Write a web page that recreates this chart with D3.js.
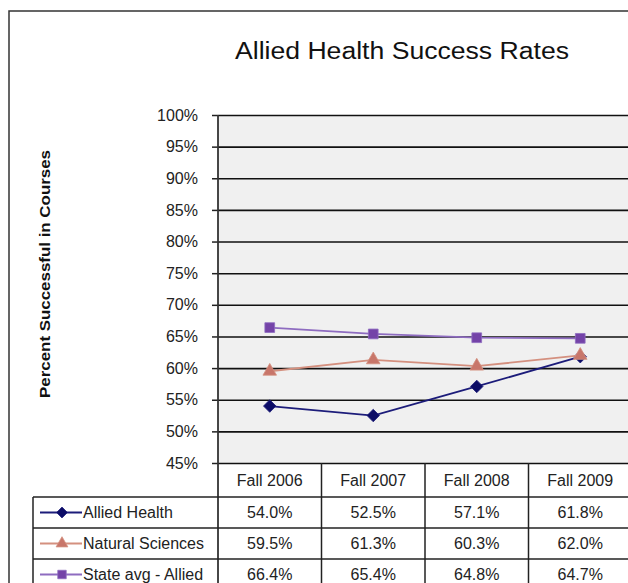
<!DOCTYPE html>
<html>
<head>
<meta charset="utf-8">
<script src="https://cdn.jsdelivr.net/npm/d3@7"></script>
<style>
  html, body { margin: 0; padding: 0; background: #fff; }
  svg { display: block; font-family: "Liberation Sans", Arial, sans-serif; }
</style>
</head>
<body>
<svg id="chart"></svg>
<script>
const years = ["Fall 2006", "Fall 2007", "Fall 2008", "Fall 2009"];
const seriesNames = ["Allied Health", "Natural Sciences", "State avg - Allied"];
const alliedHealth = [54.0, 52.5, 57.1, 61.8];
const naturalSciences = [59.5, 61.3, 60.3, 62.0];
const stateAvg = [66.4, 65.4, 64.8, 64.7];
const yTicks = [45, 50, 55, 60, 65, 70, 75, 80, 85, 90, 95, 100];

const series = [
  {name: seriesNames[0], values: alliedHealth, line: "#1c1c7a", fill: "#0c0c66", shape: d3.symbolDiamond2, size: 100},
  {name: seriesNames[1], values: naturalSciences, line: "#d4907f", fill: "#c8766a", shape: d3.symbolTriangle, size: 80},
  {name: seriesNames[2], values: stateAvg, line: "#8e6cc0", fill: "#7443a8", shape: d3.symbolSquare, size: 95}
];

const width = 628, height = 583;
const margin = {top: 115, left: 218, right: -4, bottom: 120};
const rowH = 31;

const svg = d3.select("#chart")
  .attr("width", width)
  .attr("height", height);

// outer frame of the chart area
svg.append("rect")
  .attr("x", 9).attr("y", 11)
  .attr("width", width + 20).attr("height", height + 20)
  .attr("fill", "#fff")
  .attr("stroke", "#333")
  .attr("stroke-width", 1.5);

const x = d3.scaleBand()
  .domain(years)
  .range([margin.left, width - margin.right]);

const y = d3.scaleLinear()
  .domain([45, 100])
  .range([height - margin.bottom, margin.top]);

const plotBottom = y(45);

// plot background
svg.append("rect")
  .attr("x", margin.left)
  .attr("y", margin.top)
  .attr("width", x.range()[1] - margin.left)
  .attr("height", plotBottom - margin.top)
  .attr("fill", "#f0f0f0");

// y axis with gridlines
const yAxis = g => g
  .attr("transform", `translate(${margin.left},0)`)
  .call(d3.axisLeft(y).tickValues(yTicks).tickFormat(d => d + "%")
        .tickSizeInner(6).tickSizeOuter(0).tickPadding(14))
  .call(g => g.selectAll(".domain").remove())
  .call(g => g.selectAll(".tick line").attr("stroke", "#222").attr("stroke-width", 1.5))
  .call(g => g.selectAll(".tick text")
        .attr("font-size", 16).attr("fill", "#222")
        .attr("font-family", "Liberation Sans, Arial, sans-serif"))
  .call(g => g.selectAll(".tick").append("line")
        .attr("x1", 0).attr("x2", x.range()[1] - margin.left)
        .attr("stroke", "#111").attr("stroke-width", 1.6));

svg.append("g").call(yAxis);

// title
svg.append("text")
  .attr("x", 402).attr("y", 59)
  .attr("text-anchor", "middle")
  .attr("font-size", 23)
  .attr("textLength", 334)
  .attr("lengthAdjust", "spacingAndGlyphs")
  .attr("fill", "#111")
  .text("Allied Health Success Rates");

// y axis title
svg.append("text")
  .attr("transform", "translate(50,274) rotate(-90)")
  .attr("text-anchor", "middle")
  .attr("font-size", 15.5)
  .attr("font-weight", "bold")
  .attr("textLength", 248)
  .attr("lengthAdjust", "spacingAndGlyphs")
  .attr("fill", "#111")
  .text("Percent Successful in Courses");

// lines and markers
const line = d3.line()
  .x((d, i) => x(years[i]) + x.bandwidth() / 2)
  .y(d => y(d));

const sg = svg.append("g")
  .selectAll("g")
  .data(series)
  .enter().append("g");

sg.append("path")
  .attr("fill", "none")
  .attr("stroke", d => d.line)
  .attr("stroke-width", 1.8)
  .attr("d", d => line(d.values));

sg.selectAll("path.marker")
  .data(d => d.values.map((v, i) => ({v, i, s: d})))
  .enter().append("path")
  .attr("class", "marker")
  .attr("transform", d => `translate(${x(years[d.i]) + x.bandwidth() / 2},${y(d.v)})`)
  .attr("d", d => d3.symbol().type(d.s.shape).size(d.s.size)())
  .attr("fill", d => d.s.fill)
  .attr("stroke", d => d.s.line)
  .attr("stroke-width", 0.8);

// axis line running down through the table
const tableTop = plotBottom + 34;
svg.append("line")
  .attr("x1", margin.left).attr("x2", margin.left)
  .attr("y1", margin.top).attr("y2", height + 10)
  .attr("stroke", "#333").attr("stroke-width", 1.8);

// data table
const tableLeft = 33;
const tbl = svg.append("g").attr("stroke", "#222").attr("stroke-width", 1.5);

// header cell dividers
years.forEach((yr, i) => {
  if (i > 0) {
    tbl.append("line")
      .attr("x1", x(yr)).attr("x2", x(yr))
      .attr("y1", plotBottom).attr("y2", height + 10);
  }
});

// row lines
d3.range(series.length + 1).forEach(r => {
  tbl.append("line")
    .attr("x1", tableLeft).attr("x2", width + 10)
    .attr("y1", tableTop + r * rowH).attr("y2", tableTop + r * rowH);
});
tbl.append("line")
  .attr("x1", tableLeft).attr("x2", tableLeft)
  .attr("y1", tableTop).attr("y2", height + 10);

// header text
svg.append("g")
  .selectAll("text")
  .data(years)
  .enter().append("text")
  .attr("x", d => x(d) + x.bandwidth() / 2)
  .attr("y", (plotBottom + tableTop) / 2)
  .attr("dy", "0.36em")
  .attr("text-anchor", "middle")
  .attr("font-size", 16)
  .attr("fill", "#222")
  .text(d => d);

// rows
const rows = svg.append("g")
  .selectAll("g")
  .data(series)
  .enter().append("g")
  .attr("transform", (d, i) => `translate(0,${tableTop + i * rowH + rowH / 2})`);

rows.append("line")
  .attr("x1", 40).attr("x2", 82)
  .attr("stroke", d => d.line)
  .attr("stroke-width", 1.8);

rows.append("path")
  .attr("transform", "translate(62,0)")
  .attr("d", d => d3.symbol().type(d.shape).size(d.size * 0.75)())
  .attr("fill", d => d.fill)
  .attr("stroke", d => d.line)
  .attr("stroke-width", 0.8);

rows.append("text")
  .attr("x", 83)
  .attr("dy", "0.36em")
  .attr("font-size", 16)
  .attr("fill", "#222")
  .text(d => d.name);

rows.selectAll("text.val")
  .data(d => d.values)
  .enter().append("text")
  .attr("class", "val")
  .attr("x", (d, i) => x(years[i]) + x.bandwidth() / 2)
  .attr("dy", "0.36em")
  .attr("text-anchor", "middle")
  .attr("font-size", 16)
  .attr("fill", "#222")
  .text(d => d.toFixed(1) + "%");
</script>
</body>
</html>
